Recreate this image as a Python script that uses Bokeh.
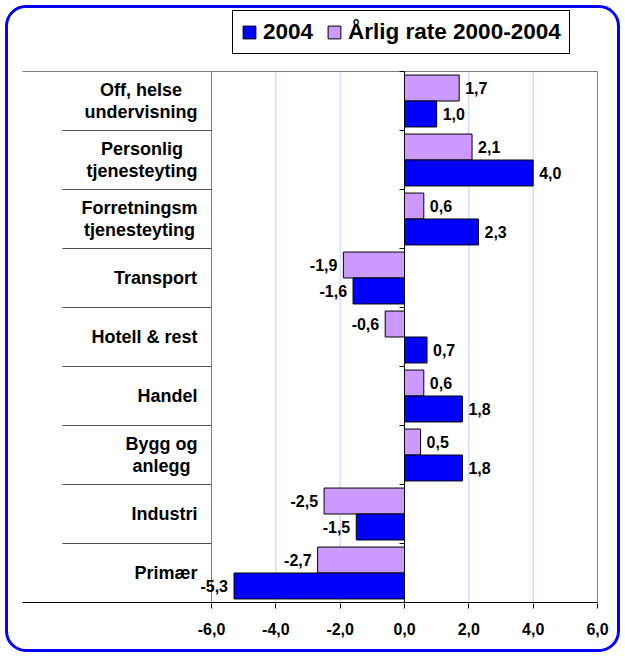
import math
from bokeh.plotting import figure
from bokeh.models import ColumnDataSource, Range1d, FixedTicker, Legend, LegendItem
from bokeh.core.properties import value
from bokeh.embed import file_html
from bokeh.resources import INLINE

# ---------------- data ----------------
categories = ["Off, helse\nundervisning", "Personlig\ntjenesteyting", "Forretningsm\ntjenesteyting",
              "Transport", "Hotell & rest", "Handel", "Bygg og\nanlegg", "Industri", "Primær"]
values_2004 = [1.0, 4.0, 2.3, -1.6, 0.7, 1.8, 1.8, -1.5, -5.3]
values_rate = [1.7, 2.1, 0.6, -1.9, -0.6, 0.6, 0.5, -2.5, -2.7]
series_names = ["2004", "Årlig rate 2000-2004"]
x_ticks = [-6, -4, -2, 0, 2, 4, 6]

# ---------------- style / layout ----------------
BLUE = "#0000FF"
PURPLE = "#CC99FF"
GRID = "#C8C8FF"
FONT = "Liberation Sans"
CAT_SIZE = 18
VAL_SIZE = 16
W, H = 625, 657
ZERO_X = 404            # pixel of x = 0
PX = 386 / 12           # pixels per x unit
AXIS_Y = 602            # pixel of the category axis bottom
BAND = 59               # pixels per category band
FRAME_BOTTOM = 603

# Arial-bold advance widths (em) used to centre the lines of two-line labels
AW = {" ": .278, ",": .278, "&": .722, "A": .722, "B": .722, "F": .611, "H": .722, "I": .278,
      "O": .778, "P": .667, "T": .611, "a": .556, "b": .611, "c": .556, "d": .611, "e": .556,
      "f": .333, "g": .611, "h": .611, "i": .278, "j": .278, "k": .556, "l": .278, "m": .889,
      "n": .611, "o": .611, "p": .611, "r": .389, "s": .556, "t": .333, "u": .611, "v": .556,
      "y": .556, "æ": .889}


def text_w(s, size):
    return sum(AW.get(ch, 0.6) for ch in s) * size


def fmt(v):
    return f"{v:.1f}".replace(".", ",")


def px_to_x(px):
    return (px - ZERO_X) / PX


n = len(categories)
centers = [n - i - 0.5 for i in range(n)]
x_lo, x_hi = x_ticks[0], x_ticks[-1]

p = figure(width=W, height=H, output_backend="svg", toolbar_location=None,
           x_range=Range1d(px_to_x(0), px_to_x(W)),
           y_range=Range1d(-(FRAME_BOTTOM - AXIS_Y) / BAND, AXIS_Y / BAND),
           y_axis_location=None, min_border=0,
           min_border_left=0, min_border_right=0, min_border_top=0,
           min_border_bottom=H - FRAME_BOTTOM)
p.outline_line_color = None
# transparent canvas so the rounded (CSS) frame of the element shows through
p.background_fill_alpha = 0
p.border_fill_alpha = 0
p.xgrid.visible = False
p.ygrid.visible = False
p.styles = {"outline": f"3px solid {BLUE}", "outline-offset": "-8px",
            "border-radius": "26px", "background-color": "white"}

# x axis (labels and ticks); the axis line itself is drawn to the reference's extent below
ax = p.xaxis[0]
ax.ticker = FixedTicker(ticks=x_ticks)
ax.major_label_overrides = {t: fmt(t) for t in x_ticks}
ax.major_label_text_font = FONT
ax.major_label_text_font_style = "bold"
ax.major_label_text_font_size = f"{VAL_SIZE}px"
ax.major_label_text_color = "black"
ax.axis_line_color = None
ax.major_tick_line_color = "black"
ax.major_tick_out = 5
ax.major_tick_in = 0
ax.minor_tick_line_color = None
ax.major_label_standoff = 14

# grid lines inside the plot area
inner = [t for t in x_ticks if t not in (x_lo, 0, x_hi)]
p.segment(x0=inner, x1=inner, y0=[0] * len(inner), y1=[n] * len(inner), line_color=GRID, line_width=1)
# plot-area side lines
p.segment(x0=[x_lo, x_hi], x1=[x_lo, x_hi], y0=[0, 0], y1=[n, n], line_color="#808080", line_width=1)
# top line and bottom axis line (extending under the category texts)
p.segment(x0=[px_to_x(22)], x1=[x_hi], y0=[n], y1=[n], line_color="#808080", line_width=1)
p.segment(x0=[px_to_x(22)], x1=[x_hi], y0=[0], y1=[0], line_color="black", line_width=1)
# separators between category texts
p.segment(x0=[px_to_x(62)] * (n - 1), x1=[x_lo] * (n - 1), y0=list(range(1, n)), y1=list(range(1, n)),
          line_color="#505050", line_width=1)

# bars
src = ColumnDataSource(dict(
    y_rate=[c + 0.22 for c in centers], y_2004=[c - 0.22 for c in centers],
    rate=values_rate, v2004=values_2004))
r_rate = p.hbar(y="y_rate", left=0, right="rate", height=0.44, source=src,
                fill_color=PURPLE, line_color="black", line_width=1)
r_2004 = p.hbar(y="y_2004", left=0, right="v2004", height=0.44, source=src,
                fill_color=BLUE, line_color="black", line_width=1)

# zero axis with small ticks at category boundaries
p.segment(x0=[0], x1=[0], y0=[0], y1=[n], line_color="black", line_width=1)
p.ray(x=[0] * (n + 1), y=list(range(0, n + 1)), length=5, length_units="screen",
      angle=math.pi, line_color="black", line_width=1)

# value labels
vx, vy, vt, va, vo = [], [], [], [], []
for vals, ys in ((values_rate, src.data["y_rate"]), (values_2004, src.data["y_2004"])):
    for v, y in zip(vals, ys):
        vx.append(v)
        vy.append(y)
        vt.append(fmt(v))
        va.append("left" if v >= 0 else "right")
        vo.append(6 if v >= 0 else -6)
p.text(x="x", y="y", text="t", text_align="a", x_offset="o",
       source=ColumnDataSource(dict(x=vx, y=vy, t=vt, a=va, o=vo)),
       text_font=value(FONT), text_font_style="bold", text_font_size=f"{VAL_SIZE}px",
       text_baseline="middle", text_color="black")

# category labels (lines centred within each block, block right-aligned)
cy, ct, cxo, cyo = [], [], [], []
for c, yc in zip(categories, centers):
    lines = c.split("\n")
    wmax = max(text_w(l, CAT_SIZE) for l in lines)
    for j, line in enumerate(lines):
        ct.append(line)
        cy.append(yc)
        cxo.append(-14 - wmax / 2)
        cyo.append((j - (len(lines) - 1) / 2) * 22.5)
p.text(x=x_lo, y="y", text="t", x_offset="xo", y_offset="yo",
       source=ColumnDataSource(dict(y=cy, t=ct, xo=cxo, yo=cyo)),
       text_align="center", text_baseline="middle",
       text_font=value(FONT), text_font_style="bold", text_font_size=f"{CAT_SIZE}px",
       text_color="black")

# legend
legend = Legend(items=[LegendItem(label=series_names[0], renderers=[r_2004]),
                       LegendItem(label=series_names[1], renderers=[r_rate])],
                orientation="horizontal", location=(232, FRAME_BOTTOM - 54),
                padding=8, margin=0, spacing=13, label_standoff=6,
                glyph_width=16, glyph_height=16,
                label_text_font=FONT, label_text_font_style="bold",
                label_text_font_size="22.5px", label_text_color="black",
                border_line_color="black", border_line_width=1, border_line_alpha=1.0,
                background_fill_color="white", background_fill_alpha=1.0)
p.add_layout(legend, "center")

open("out.html", "w").write(file_html(p, INLINE))
